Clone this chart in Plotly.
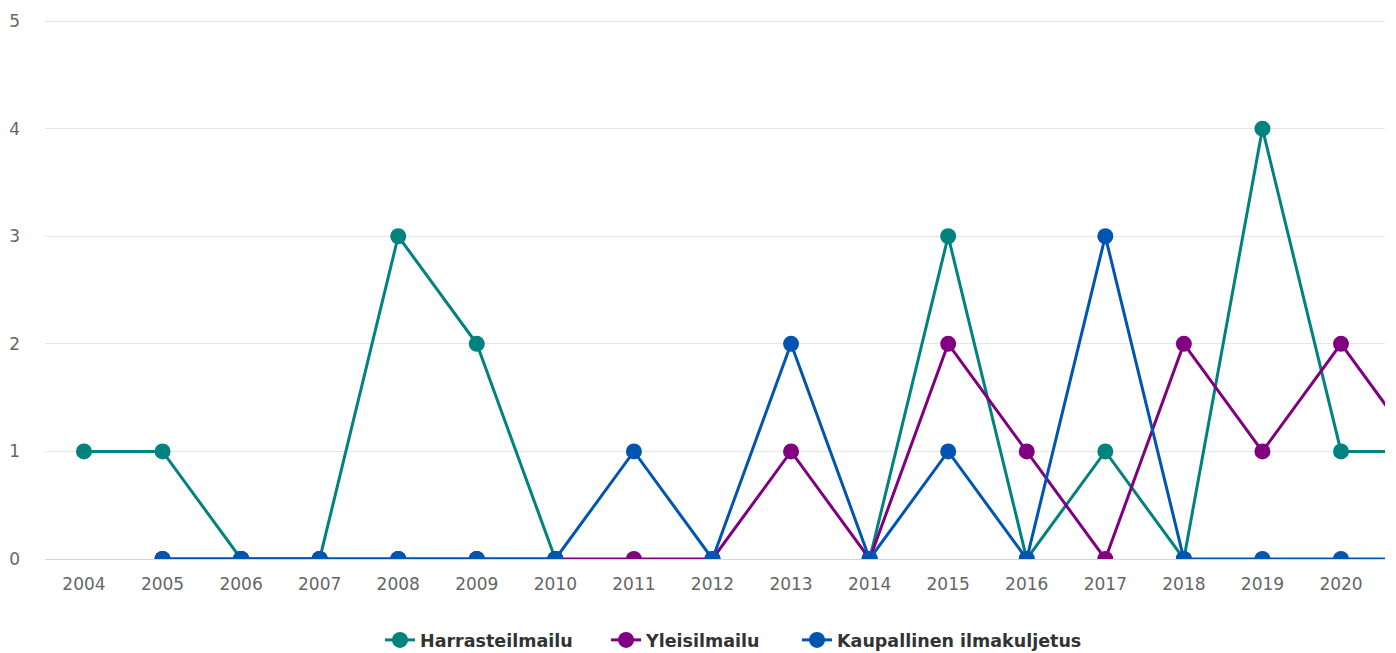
import plotly.graph_objects as go

years = list(range(2004, 2022))
harrasteilmailu = [1, 1, 0, 0, 3, 2, 0, None, None, None, 0, 3, 0, 1, 0, 4, 1, 1]
yleisilmailu = [None, 0, 0, 0, 0, 0, 0, 0, 0, 1, 0, 2, 1, 0, 2, 1, 2, 1]
kaupallinen = [None, 0, 0, 0, 0, 0, 0, 1, 0, 2, 0, 1, 0, 3, 0, 0, 0, 0]

series = [
    ("Harrasteilmailu", harrasteilmailu, "#00827f", "legend", 0.25),
    ("Yleisilmailu", yleisilmailu, "#800080", "legend2", 0.4187),
    ("Kaupallinen ilmakuljetus", kaupallinen, "#0055b3", "legend3", 0.5612),
]

fig = go.Figure()
for name, vals, color, leg, _ in series:
    fig.add_trace(go.Scatter(
        x=years, y=vals, name=name, mode="lines+markers",
        line=dict(color=color, width=3),
        marker=dict(color=color, size=16),
        connectgaps=False, legend=leg,
    ))

tickfont = dict(family="DejaVu Sans, sans-serif", size=17, color="#666666")
legfont = dict(size=17.5, color="#333333", family="DejaVu Sans, sans-serif", weight="bold")

legends = {}
for name, vals, color, leg, lx in series:
    legends[leg] = dict(orientation="h", x=lx, xanchor="left",
                        yref="container", y=13 / 645, yanchor="middle",
                        font=legfont, itemwidth=30, bgcolor="rgba(0,0,0,0)")

fig.update_layout(
    width=1388, height=645,
    margin=dict(l=37, r=11, t=12, b=94),
    paper_bgcolor="white", plot_bgcolor="white",
    font=dict(family="DejaVu Sans, sans-serif", color="#666666", size=17),
    showlegend=True,
    xaxis=dict(range=[2003.504, 2020.56], tickmode="array", tickvals=years,
               ticktext=[str(y) for y in years], automargin=False,
               showgrid=False, showline=True, linecolor="#ccd6eb", linewidth=1,
               zeroline=False, ticks="", ticklabelstandoff=10, tickfont=tickfont),
    yaxis=dict(range=[0, 5.01], tickvals=[0, 1, 2, 3, 4, 5], showgrid=True,
               gridcolor="#e6e6e6", gridwidth=1, zeroline=False, ticks="",
               automargin=False, ticklabelstandoff=24, tickfont=tickfont),
    **legends,
)

fig.write_html("out.html")
